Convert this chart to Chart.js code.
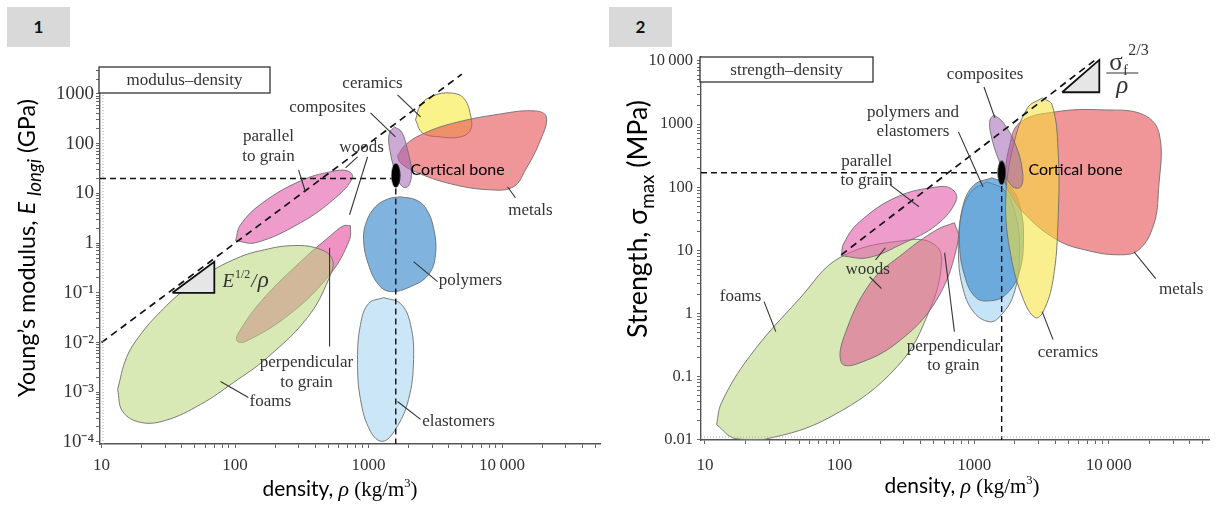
<!DOCTYPE html>
<html>
<head>
<meta charset="utf-8">
<script src="https://cdn.jsdelivr.net/npm/chart.js@4.4.1/dist/chart.umd.min.js"></script>
<style>
  html, body { margin: 0; padding: 0; background: #fff; }
  #wrap { position: relative; width: 1216px; height: 510px; overflow: hidden; }
  canvas { position: absolute; top: 0; }
  .tag { position: absolute; top: 7px; width: 63px; height: 40px; background: #d9d9d9;
         font: bold 17px Lato, "Liberation Sans", sans-serif; line-height: 40px; text-align: center; color: #111; }
</style>
</head>
<body>
<div id="wrap">
  <canvas id="c1" width="608" height="510" style="left:0"></canvas>
  <canvas id="c2" width="608" height="510" style="left:608px"></canvas>
  <div class="tag" style="left:7px">1</div>
  <div class="tag" style="left:609px">2</div>
</div>
<script>
// ---------- tick labels ----------
const xTickValues = [10, 100, 1000, 10000];
const xTickLabels = ['10', '100', '1000', '10\u2009000'];
const yTickValues1 = [1e-4, 1e-3, 1e-2, 1e-1, 1, 10, 100, 1000];
const yTickLabels1 = ['10\u207B\u2074', '10\u207B\u00B3', '10\u207B\u00B2', '10\u207B\u00B9', '1', '10', '100', '1000'];
const yTickValues2 = [0.01, 0.1, 1, 10, 100, 1000, 10000];
const yTickLabels2 = ['0.01', '0.1', '1', '10', '100', '1000', '10\u2009000'];

// ---------- panel 1: modulus (GPa) vs density (kg/m3), outlines ----------
const foams1 = [[13.2, 0.00114], [14.4, 0.000411], [19.6, 0.000248], [30.2, 0.000272], [55.2, 0.000569], [97.5, 0.00157], [175, 0.005], [349, 0.0318], [501, 0.184], [537, 0.464], [422, 0.773], [260, 0.887], [155, 0.703], [110, 0.533], [65.5, 0.267], [41.1, 0.111], [27.7, 0.0419], [19.6, 0.0145], [15.4, 0.005]];
const woodsPar1 = [[101, 1.12], [143, 1.02], [310, 2.57], [566, 8.17], [759, 20.6], [697, 28.4], [519, 27.2], [310, 17.9], [161, 6.47], [110, 2.34]];
const woodsPerp1 = [[733, 2.23], [721, 1.17], [519, 0.243], [260, 0.0382], [120, 0.0105], [103, 0.011], [110, 0.0182], [161, 0.073], [310, 0.424], [519, 1.41], [650, 2.23]];
const composites1 = [[1567, 217], [1768, 173], [1960, 75.1], [2100, 27.2], [1995, 14.2], [1800, 13.6], [1622, 22.5], [1435, 82.4], [1435, 165]];
const ceramics1 = [[2250, 301], [2455, 601], [3016, 912], [4113, 1047], [5150, 831], [5807, 378], [5807, 189], [4887, 137], [3461, 137], [2535, 165]];
const metals1 = [[1648, 56.9], [1892, 94.6], [2455, 150], [4113, 250], [9745, 397], [17800, 456], [21500, 345], [19430, 119], [15000, 29.8], [12200, 13.6], [8200, 11.8], [4113, 15.6], [2250, 27.2], [1738, 41.1]];
const polymers1 = [[1738, 8.55], [2250, 7.43], [2673, 5.14], [3070, 2.04], [3177, 0.585], [2813, 0.232], [2065, 0.133], [1462, 0.106], [1189, 0.146], [1000, 0.368], [918, 1.17], [966, 2.69], [1127, 5.38], [1412, 7.8]];
const elastomers1 = [[1295, 0.0802], [1738, 0.0607], [2065, 0.023], [2175, 0.00456], [1995, 0.000717], [1592, 0.000179], [1273, 0.000103], [1035, 0.000163], [871, 0.000717], [828, 0.00456], [871, 0.023], [1000, 0.0607]];
const guide1 = [[10, 0.01], [5000, 2500]];
const triangle1 = [[34, 0.1], [70, 0.42], [70, 0.1]];
const bone1 = [1600, 23];
const boneLevel1 = 20;
const boneFoot1 = 12.5;

// ---------- panel 2: strength (MPa) vs density (kg/m3) ----------
const foams2 = [[12.2, 0.0174], [16.6, 0.01045], [27.5, 0.0101], [86.7, 0.0233], [268, 0.144], [468, 1.15], [573, 6.61], [509, 12.3], [334, 14.7], [103, 7.92], [49.6, 1.65], [21.4, 0.207], [13.3, 0.0388]];
const woodsPar2 = [[103, 8.2], [162, 7.64], [292, 12.7], [527, 25.4], [738, 63.2], [679, 94.4], [527, 101], [268, 70.5], [141, 28.4], [108, 13.2]];
const woodsPerp2 = [[713, 27.4], [764, 14.7], [527, 1.65], [268, 0.345], [130, 0.155], [103, 0.167], [108, 0.43], [170, 3.07], [302, 9.16], [527, 21.2]];
const elastomers2 = [[1245, 122], [1660, 91], [2031, 36.6], [2172, 8.51], [1962, 1.98], [1524, 0.859], [1288, 0.741], [1000, 1.03], [830, 2.38], [764, 8.51], [803, 36.6], [950, 84.5]];
const polymers2 = [[1355, 141], [1803, 109], [2172, 52.7], [2325, 14.7], [2136, 4.11], [1715, 1.98], [1355, 1.6], [1035, 1.77], [845, 4.11], [777, 14.7], [830, 52.7], [1000, 109]];
const composites2 = [[1403, 1400], [1629, 1084], [2031, 469], [2286, 175], [2210, 101], [1897, 105], [1524, 271], [1333, 675], [1310, 1165]];
const ceramics2 = [[3200, 2600], [3790, 2014], [4200, 391], [4200, 30.5], [3855, 3.42], [3258, 1.07], [2845, 0.859], [2325, 1.65], [1867, 8.51], [1715, 63.2], [1962, 469], [2490, 1803]];
const metals2 = [[1687, 141], [1803, 391], [2172, 1044], [3989, 1560], [9270, 1679], [18200, 1400], [23800, 675], [23400, 91], [21540, 25.4], [16700, 10.2], [11900, 8.51], [6620, 10.2], [4120, 14.7], [2405, 36.6], [1775, 91]];
const guide2 = [[103, 8.5], [8200, 11000]];
const triangle2 = [[4500, 3200], [8500, 10400], [8500, 3200]];
const bone2 = [1600, 170];
const boneLevel2 = 170;
const boneFoot2 = 105;

// ---------- annotation text and leader lines (data coordinates) ----------
const labels1 = [
  { text: ['ceramics'], at: [1072, 1589] },
  { text: ['composites'], at: [493, 524] },
  { text: ['woods'], at: [887, 82.4] },
  { text: ['parallel', 'to grain'], at: [178, 137] },
  { text: ['metals'], at: [16350, 4.48] },
  { text: ['polymers'], at: [5807, 0.176] },
  { text: ['elastomers'], at: [4720, 0.00026] },
  { text: ['perpendicular', 'to grain'], at: [343, 0.00397] },
  { text: ['foams'], at: [184, 0.000653] },
  { text: ['Cortical bone'], at: [2065, 29.8], sans: true }
];
const leaders1 = [
  [[1648, 955], [2455, 345]],
  [[1035, 415], [1592, 137]],
  [[828, 54.3], [673, 32.7]],
  [[984, 54.3], [721, 3.72]],
  [[299, 29.8], [337, 10.8]],
  [[11000, 13.6], [12600, 8.17]],
  [[3290, 0.168], [2175, 0.424]],
  [[2455, 0.000284], [1648, 0.000653]],
  [[511, 0.809], [511, 0.00831]],
  [[126, 0.000787], [77.9, 0.00165]]
];
const labels2 = [
  { text: ['composites'], at: [1205, 6000] },
  { text: ['polymers and', 'elastomers'], at: [351, 1503] },
  { text: ['parallel', 'to grain'], at: [159, 252] },
  { text: ['woods'], at: [162, 4.93] },
  { text: ['foams'], at: [18.4, 1.85] },
  { text: ['perpendicular', 'to grain'], at: [701, 0.299] },
  { text: ['ceramics'], at: [4970, 0.24] },
  { text: ['metals'], at: [34500, 2.38] },
  { text: ['Cortical bone'], at: [2530, 188], sans: true }
];
const leaders2 = [
  [[1183, 3880], [1425, 1254]],
  [[764, 753], [1164, 101]],
  [[238, 109], [389, 49]],
  [[185, 7.09], [219, 11.0]],
  [[167, 3.82], [205, 2.47]],
  [[27.5, 1.54], [33.6, 0.515]],
  [[713, 0.515], [603, 9.16]],
  [[3855, 0.385], [3200, 1.07]],
  [[22300, 3.56], [15380, 9.5]]
];

const SERIF = '"Liberation Serif", "Times New Roman", serif';
const SANS = 'Lato, "Liberation Sans", Arial, sans-serif';

const toXY = (pts, close) => {
  const d = pts.map(([x, y]) => ({ x, y }));
  if (close) d.push({ x: pts[0][0], y: pts[0][1] });
  return d;
};

// 1..9 x 10^k tick marks inside the axis range
function logTicks(scale) {
  const out = [];
  const e0 = Math.floor(Math.log10(scale.min)), e1 = Math.ceil(Math.log10(scale.max));
  for (let e = e0; e <= e1; e++) {
    for (let m = 1; m <= 9; m++) {
      const v = parseFloat((m * Math.pow(10, e)).toPrecision(6));
      if (v >= scale.min && v <= scale.max) out.push({ value: v });
    }
  }
  scale.ticks = out;
}

function tickLabel(v, values, labels) {
  const i = values.findIndex(t => Math.abs(t - v) / t < 1e-6);
  return i >= 0 ? labels[i] : '';
}

function boneMarker(w, h) {
  const c = document.createElement('canvas');
  c.width = w; c.height = h;
  const g = c.getContext('2d');
  g.fillStyle = '#000';
  g.beginPath();
  g.ellipse(w / 2, h / 2, w / 2 - 0.5, h / 2 - 0.5, 0, 0, Math.PI * 2);
  g.fill();
  return c;
}

function runs(ctx, parts, size) {
  return parts.map(([t, pre, rel, fam, dy]) => {
    const font = `${pre} ${(size * rel).toFixed(2)}px ${fam}`;
    ctx.font = font;
    return { t, font, w: ctx.measureText(t).width, dy: (dy || 0) * size };
  });
}

// title drawn centred on (cx, cy) and stretched to the width it has in the picture
function drawTitle(ctx, parts, cx, cy, angle, width) {
  const r0 = runs(ctx, parts, 20);
  const w0 = r0.reduce((a, r) => a + r.w, 0);
  const rs = runs(ctx, parts, 20 * width / w0);
  const w = rs.reduce((a, r) => a + r.w, 0);
  ctx.save();
  ctx.translate(cx, cy);
  ctx.rotate(angle);
  ctx.textAlign = 'left';
  ctx.textBaseline = 'alphabetic';
  ctx.fillStyle = '#000';
  let x = -w / 2;
  rs.forEach(r => { ctx.font = r.font; ctx.fillText(r.t, x, r.dy); x += r.w; });
  ctx.restore();
}

const densityTitle = [
  ['density, ', '', 1, SANS],
  ['\u03C1', 'italic', 1.05, SERIF],
  [' (kg/m', '', 1, SERIF],
  ['3', '', 0.6, SERIF, -0.42],
  [')', '', 1, SERIF]
];

function buildPanel(id, p) {
  const layers = [];
  p.regions.forEach(([pts, color]) => layers.push({
    data: toXY(pts, true), backgroundColor: color, borderColor: 'rgba(110,110,110,0.9)',
    borderWidth: 1, fill: 'shape', tension: 0.4
  }));
  layers.push({ data: toXY(p.triangle, true), backgroundColor: '#e6e6e6', borderColor: '#111', borderWidth: 1.8, fill: 'shape', tension: 0 });
  layers.push({ data: toXY(p.guide), borderColor: '#111', borderWidth: 1.7, borderDash: [7, 5], fill: false });
  layers.push({ data: toXY([[p.xMin, p.boneLevel], [p.bone[0] * 0.93, p.boneLevel]]), borderColor: '#111', borderWidth: 1.4, borderDash: [6, 4], fill: false });
  layers.push({ data: toXY([[p.bone[0], p.boneFoot], [p.bone[0], p.yMin]]), borderColor: '#111', borderWidth: 1.4, borderDash: [6, 4], fill: false });
  p.leaders.forEach(l => layers.push({ data: toXY(l), borderColor: '#333', borderWidth: 1.1, fill: false }));
  layers.push({ data: toXY([p.bone]), pointStyle: boneMarker(p.boneSize[0], p.boneSize[1]), pointRadius: 6, showLine: false });
  layers.forEach((d, i) => { d.order = layers.length - i; });

  const axis = (o) => ({
    type: 'logarithmic', min: o.min, max: o.max,
    afterBuildTicks: logTicks,
    afterFit: s => { if (s.isHorizontal()) s.height = o.size; else s.width = o.size; },
    border: { display: true, color: '#555', width: 1.4 },
    grid: { display: true, drawOnChartArea: false, drawTicks: true, tickLength: 4, color: '#666', lineWidth: 1 },
    ticks: {
      autoSkip: false, maxRotation: 0, minRotation: 0, padding: o.pad, color: '#333',
      font: { family: SERIF, size: o.font },
      callback: v => tickLabel(v, o.values, o.labels)
    }
  });

  const annotate = {
    id: 'annotate',
    afterDatasetsDraw(chart) {
      const { ctx, scales: { x, y } } = chart;
      const px = v => x.getPixelForValue(v), py = v => y.getPixelForValue(v);
      ctx.save();
      p.labels.forEach(l => {
        ctx.font = l.sans ? `16px ${SANS}` : `17px ${SERIF}`;
        ctx.fillStyle = l.sans ? '#000' : '#333';
        ctx.textAlign = l.sans ? 'left' : 'center';
        ctx.textBaseline = 'middle';
        l.text.forEach((t, i) => ctx.fillText(t, px(l.at[0]), py(l.at[1]) + i * p.lineGap));
      });
      p.drawRule(ctx, px, py);
      ctx.restore();
    },
    afterDraw(chart) {
      const { ctx, chartArea: a } = chart;
      ctx.save();
      // faint dotted companion line of the axis
      ctx.strokeStyle = '#aaa'; ctx.lineWidth = 1; ctx.setLineDash([1, 2]);
      ctx.beginPath();
      if (p.dotted === 'left') { ctx.moveTo(a.left + 3, a.top); ctx.lineTo(a.left + 3, a.bottom); }
      else { ctx.moveTo(a.left, a.bottom - 3); ctx.lineTo(a.right, a.bottom - 3); }
      ctx.stroke();
      ctx.setLineDash([]);
      // plot title box
      const [bx, by, bw, bh] = [a.left - 1, a.top + p.box.dy, p.box.w, p.box.h];
      ctx.fillStyle = '#fff'; ctx.fillRect(bx, by, bw, bh);
      ctx.strokeStyle = '#333'; ctx.lineWidth = 1.3; ctx.strokeRect(bx, by, bw, bh);
      ctx.fillStyle = '#333'; ctx.font = `17px ${SERIF}`; ctx.textAlign = 'center'; ctx.textBaseline = 'middle';
      ctx.fillText(p.box.text, bx + bw / 2, by + bh / 2 + 1);
      // axis titles
      drawTitle(ctx, densityTitle, p.xTitle[0], p.xTitle[1], 0, p.xTitle[2]);
      drawTitle(ctx, p.yTitleParts, p.yTitle[0], p.yTitle[1], -Math.PI / 2, p.yTitle[2]);
      ctx.restore();
    }
  };

  new Chart(document.getElementById(id), {
    type: 'line',
    data: { datasets: layers },
    options: {
      responsive: false, animation: false, events: [], devicePixelRatio: 1,
      layout: { padding: { left: 0, right: p.padRight, top: p.top, bottom: 0 } },
      plugins: { legend: { display: false }, tooltip: { enabled: false } },
      elements: { point: { radius: 0 }, line: { tension: 0 } },
      scales: {
        x: axis({ min: p.xMin, max: p.xMax, size: p.xAxisH, pad: p.xPad, font: 17, values: xTickValues, labels: xTickLabels }),
        y: axis({ min: p.yMin, max: p.yMax, size: p.yAxisW, pad: p.yPad, font: p.yFont, values: p.yValues, labels: p.yLabels })
      }
    },
    plugins: [annotate]
  });
}

buildPanel('c1', {
  regions: [
    [woodsPerp1, 'rgba(230,80,160,0.62)'],
    [foams1, 'rgba(185,215,120,0.55)'],
    [woodsPar1, 'rgba(225,90,170,0.6)'],
    [elastomers1, 'rgba(150,205,240,0.5)'],
    [polymers1, 'rgba(60,140,205,0.65)'],
    [ceramics1, 'rgba(245,235,60,0.6)'],
    [metals1, 'rgba(230,80,85,0.6)'],
    [composites1, 'rgba(160,100,180,0.55)']
  ],
  triangle: triangle1, guide: guide1, bone: bone1, boneLevel: boneLevel1, boneFoot: boneFoot1, boneSize: [10, 25],
  leaders: leaders1, labels: labels1, lineGap: 20,
  xMin: 9.745, xMax: 54200, yMin: 9.1e-5, yMax: 3330,
  yValues: yTickValues1, yLabels: yTickLabels1, yFont: 19,
  top: 68, padRight: 8, yAxisW: 100, xAxisH: 66, xPad: 7, yPad: 2,
  dotted: 'left',
  box: { text: 'modulus\u2013density', dy: -1, w: 171, h: 26 },
  xTitle: [340, 496, 155],
  yTitle: [35, 248, 298],
  yTitleParts: [
    ['Young\u2019s modulus, ', '', 1, SANS],
    ['E', 'italic', 1, SANS],
    [' ', '', 1, SANS],
    ['longi', 'italic', 0.8, SANS, 0.25],
    [' (GPa)', '', 1, SANS]
  ],
  drawRule(ctx, px, py) {
    // E^(1/2)/rho next to the slope triangle
    let x = px(80.5); const y = py(0.133);
    ctx.textAlign = 'left'; ctx.textBaseline = 'alphabetic'; ctx.fillStyle = '#333';
    [['E', `italic 19px ${SERIF}`, 0], ['1/2', `12px ${SERIF}`, -9], ['/', `italic 19px ${SERIF}`, 0], ['\u03C1', `italic 23px ${SERIF}`, 0]]
      .forEach(([t, f, dy]) => { ctx.font = f; ctx.fillText(t, x, y + dy); x += ctx.measureText(t).width + 1; });
  }
});

buildPanel('c2', {
  regions: [
    [foams2, 'rgba(185,215,120,0.55)'],
    [woodsPar2, 'rgba(225,90,170,0.6)'],
    [woodsPerp2, 'rgba(225,90,150,0.6)'],
    [elastomers2, 'rgba(150,205,240,0.55)'],
    [polymers2, 'rgba(60,140,205,0.65)'],
    [metals2, 'rgba(230,80,85,0.6)'],
    [ceramics2, 'rgba(245,225,50,0.55)'],
    [composites2, 'rgba(160,100,180,0.55)']
  ],
  triangle: triangle2, guide: guide2, bone: bone2, boneLevel: boneLevel2, boneFoot: boneFoot2, boneSize: [9, 25],
  leaders: leaders2, labels: labels2, lineGap: 19,
  xMin: 9.35, xMax: 55500, yMin: 0.0099, yMax: 11570,
  yValues: yTickValues2, yLabels: yTickLabels2, yFont: 16.5,
  top: 57, padRight: 0, yAxisW: 93, xAxisH: 70, xPad: 11, yPad: 4,
  dotted: 'bottom',
  box: { text: 'strength\u2013density', dy: 0, w: 173, h: 25 },
  xTitle: [354, 493, 155],
  yTitle: [39, 219, 238],
  yTitleParts: [
    ['Strength, \u03C3', '', 1, SANS],
    ['max', '', 0.7, SANS, 0.25],
    [' (MPa)', '', 1, SANS]
  ],
  drawRule(ctx, px, py) {
    // sigma_f^(2/3) / rho fraction beside the triangle
    const cx = px(12600), cy = py(6460);
    ctx.fillStyle = '#333'; ctx.strokeStyle = '#333'; ctx.lineWidth = 1.2;
    ctx.beginPath(); ctx.moveTo(cx - 16, cy); ctx.lineTo(cx + 16, cy); ctx.stroke();
    ctx.textBaseline = 'alphabetic'; ctx.textAlign = 'left';
    ctx.font = `25px ${SERIF}`; ctx.fillText('\u03C3', cx - 13, cy - 3);
    ctx.font = `14px ${SERIF}`; ctx.fillText('f', cx + 1, cy + 2);
    ctx.font = `16px ${SERIF}`; ctx.fillText('2/3', cx + 6, cy - 18);
    ctx.textAlign = 'center';
    ctx.font = `italic 25px ${SERIF}`; ctx.fillText('\u03C1', cx, cy + 20);
  }
});
</script>
</body>
</html>
